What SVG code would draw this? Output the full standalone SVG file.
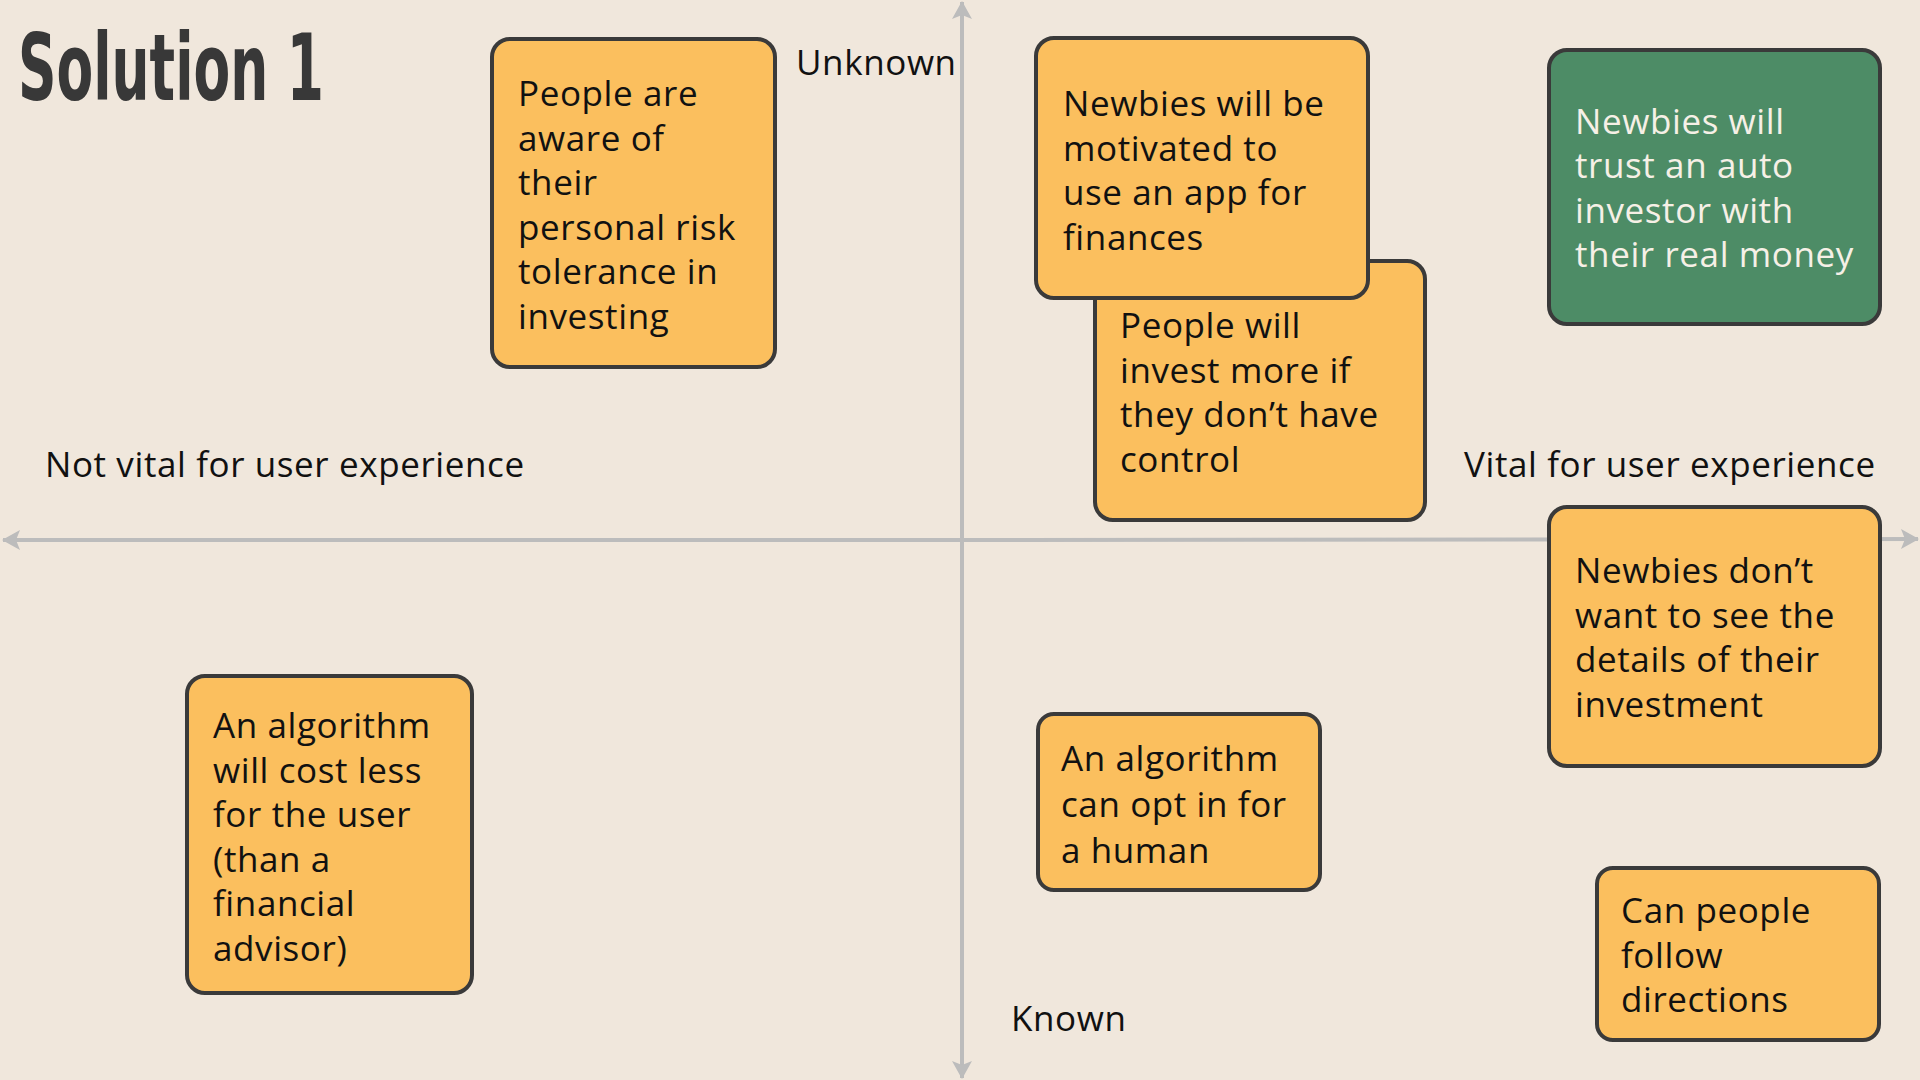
<svg xmlns="http://www.w3.org/2000/svg" width="1920" height="1080" viewBox="0 0 1920 1080">
  <style>
    .bg { fill: #f0e7dc; }
    .axis { stroke: #bcbcbc; stroke-width: 4; fill: none; }
    .card { stroke: #3a3a3a; stroke-width: 4; }
    .orange { fill: #fbbf5e; }
    .green { fill: #4d8c66; }
    .txt { font-family: "Open Sans", "Noto Sans", "Liberation Sans", sans-serif; font-size: 35px; letter-spacing: 0.6px; fill: #111111; }
    .light { fill: #f6f0e6; }
    .title { font-family: "DejaVu Sans Condensed", "DejaVu Sans", sans-serif; font-weight: bold; font-size: 92px; fill: #383838; }
  </style>
  <defs>
    <marker id="arrow" markerUnits="userSpaceOnUse" markerWidth="20" markerHeight="22" refX="17" refY="11" orient="auto">
      <path d="M0,1 L18,11 L0,21 L4,11 z" fill="#bcbcbc"/>
    </marker>
  </defs>

  <rect class="bg" x="0" y="0" width="1920" height="1080"/>

  <text class="title" x="18" y="100" textLength="306" lengthAdjust="spacingAndGlyphs">Solution 1</text>

  <!-- axes -->
  <g id="axes">
    <line class="axis" x1="962" y1="540" x2="3" y2="540" marker-end="url(#arrow)"/>
    <line class="axis" x1="962" y1="540" x2="1918" y2="539" marker-end="url(#arrow)"/>
    <line class="axis" x1="962" y1="540" x2="962" y2="2" marker-end="url(#arrow)"/>
    <line class="axis" x1="962" y1="540" x2="962" y2="1078" marker-end="url(#arrow)"/>
  </g>

  <!-- axis labels -->
  <g id="labels">
    <text class="txt" x="796" y="75">Unknown</text>
    <text class="txt" x="1011" y="1031">Known</text>
    <text class="txt" x="45" y="477">Not vital for user experience</text>
    <text class="txt" x="1464" y="477">Vital for user experience</text>
  </g>

  <g id="card-risk">
    <rect class="card orange" x="492" y="39" width="283" height="328" rx="18"/>
    <text class="txt">
      <tspan x="518" y="106">People are</tspan>
      <tspan x="518" y="150.5">aware of</tspan>
      <tspan x="518" y="195">their</tspan>
      <tspan x="518" y="239.5">personal risk</tspan>
      <tspan x="518" y="284">tolerance in</tspan>
      <tspan x="518" y="328.5">investing</tspan>
    </text>
  </g>

  <g id="card-control">
    <rect class="card orange" x="1095" y="261" width="330" height="259" rx="18"/>
    <text class="txt">
      <tspan x="1120" y="338">People will</tspan>
      <tspan x="1120" y="382.5">invest more if</tspan>
      <tspan x="1120" y="427">they don’t have</tspan>
      <tspan x="1120" y="471.5">control</tspan>
    </text>
  </g>

  <g id="card-motivated">
    <rect class="card orange" x="1036" y="38" width="332" height="260" rx="18"/>
    <text class="txt">
      <tspan x="1063" y="116">Newbies will be</tspan>
      <tspan x="1063" y="160.5">motivated to</tspan>
      <tspan x="1063" y="205">use an app for</tspan>
      <tspan x="1063" y="249.5">finances</tspan>
    </text>
  </g>

  <g id="card-trust">
    <rect class="card green" x="1549" y="50" width="331" height="274" rx="18"/>
    <text class="txt light">
      <tspan x="1575" y="133.5">Newbies will</tspan>
      <tspan x="1575" y="178">trust an auto</tspan>
      <tspan x="1575" y="222.5">investor with</tspan>
      <tspan x="1575" y="267">their real money</tspan>
    </text>
  </g>

  <g id="card-details">
    <rect class="card orange" x="1549" y="507" width="331" height="259" rx="18"/>
    <text class="txt">
      <tspan x="1575" y="583">Newbies don’t</tspan>
      <tspan x="1575" y="627.5">want to see the</tspan>
      <tspan x="1575" y="672">details of their</tspan>
      <tspan x="1575" y="716.5">investment</tspan>
    </text>
  </g>

  <g id="card-cost">
    <rect class="card orange" x="187" y="676" width="285" height="317" rx="18"/>
    <text class="txt">
      <tspan x="213" y="738">An algorithm</tspan>
      <tspan x="213" y="782.5">will cost less</tspan>
      <tspan x="213" y="827">for the user</tspan>
      <tspan x="213" y="871.5">(than a</tspan>
      <tspan x="213" y="916">financial</tspan>
      <tspan x="213" y="960.5">advisor)</tspan>
    </text>
  </g>

  <g id="card-optin">
    <rect class="card orange" x="1038" y="714" width="282" height="176" rx="16"/>
    <text class="txt">
      <tspan x="1061" y="771">An algorithm</tspan>
      <tspan x="1061" y="817">can opt in for</tspan>
      <tspan x="1061" y="863">a human</tspan>
    </text>
  </g>

  <g id="card-directions">
    <rect class="card orange" x="1597" y="868" width="282" height="172" rx="16"/>
    <text class="txt">
      <tspan x="1621" y="923">Can people</tspan>
      <tspan x="1621" y="968">follow</tspan>
      <tspan x="1621" y="1012">directions</tspan>
    </text>
  </g>
</svg>
